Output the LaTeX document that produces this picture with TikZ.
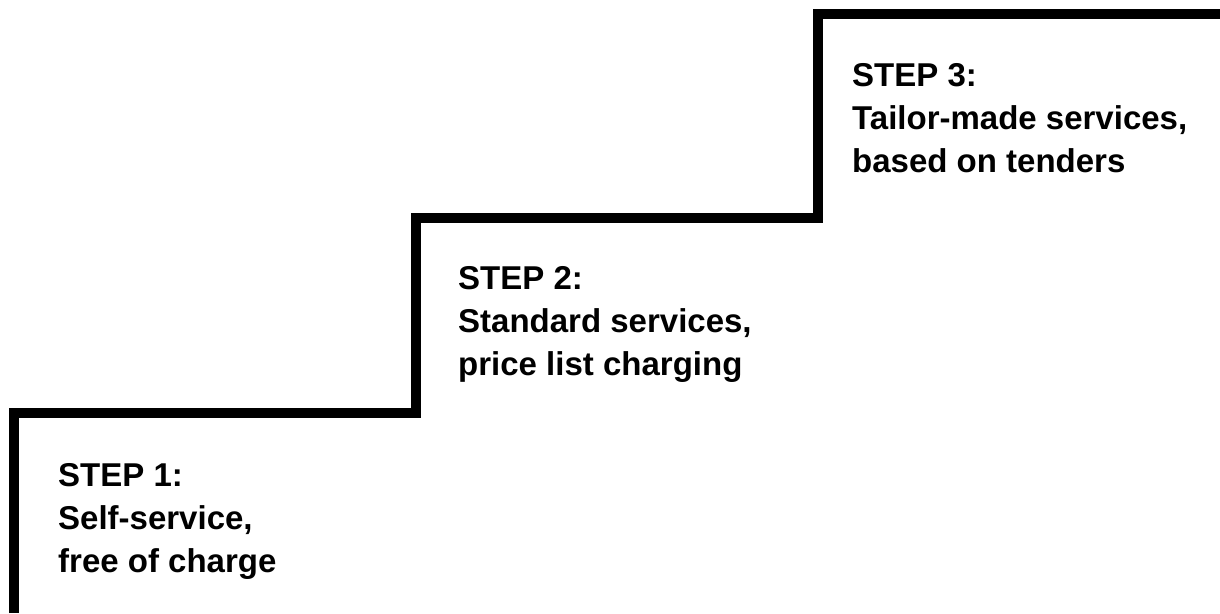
\documentclass[tikz,border=0pt]{standalone}
\usepackage{fontspec}
\setmainfont{Liberation Sans}
\begin{document}
\begin{tikzpicture}[x=1pt,y=-1pt,
  stair/.style={line width=10pt,line join=miter,draw=black},
  steplabel/.style={anchor=north west,inner sep=0pt,align=left,
    font=\fontsize{33}{43}\selectfont\bfseries}]
\useasboundingbox (0,0) rectangle (1220,613);
\coordinate (s0) at (14,613);
\coordinate (s1) at (14,412.5);
\coordinate (s2) at (416,412.5);
\coordinate (s3) at (416,218);
\coordinate (s4) at (818,218);
\coordinate (s5) at (818,14);
\coordinate (s6) at (1220,14);
\draw[stair] (s0) -- (s1) -- (s2) -- (s3) -- (s4) -- (s5) -- (s6);
\node[steplabel] (t1) at (58,463) {STEP 1:\\Self-service,\\free of charge};
\node[steplabel] (t2) at (458,266) {STEP 2:\\Standard services,\\price list charging};
\node[steplabel] (t3) at (852,63) {STEP 3:\\Tailor-made services,\\based on tenders};
\end{tikzpicture}
\end{document}
